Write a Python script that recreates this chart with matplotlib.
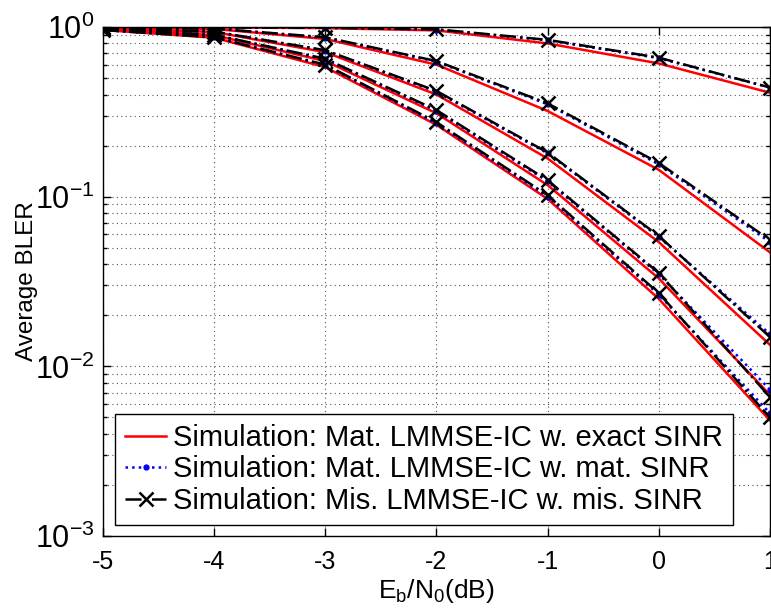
import matplotlib
matplotlib.use("Agg")
import matplotlib.pyplot as plt
from matplotlib.ticker import LogLocator, FixedLocator, NullLocator

plt.rcParams['font.family'] = ['Liberation Sans', 'DejaVu Sans']
plt.rcParams['axes.unicode_minus'] = False
plt.rcParams['mathtext.default'] = 'regular'

ebn0 = [-5, -4, -3, -2, -1, 0, 1]

# five curve groups, each: exact SINR (red), mat. SINR (blue), mis. SINR (black)
exact_sinr = [
    [1.00, 0.995, 0.985, 0.955, 0.80, 0.61, 0.41],
    [0.99, 0.975, 0.85, 0.60, 0.32, 0.144, 0.047],
    [0.98, 0.935, 0.71, 0.40, 0.168, 0.054, 0.0134],
    [0.97, 0.895, 0.63, 0.31, 0.117, 0.033, 0.0068],
    [0.96, 0.865, 0.58, 0.265, 0.097, 0.025, 0.0048],
]
mat_sinr = [
    [1.00, 0.995, 0.99, 0.965, 0.835, 0.655, 0.44],
    [0.99, 0.98, 0.865, 0.625, 0.35, 0.155, 0.054],
    [0.98, 0.94, 0.725, 0.415, 0.18, 0.058, 0.0155],
    [0.97, 0.90, 0.645, 0.32, 0.123, 0.035, 0.0073],
    [0.96, 0.87, 0.595, 0.27, 0.10, 0.0265, 0.0053],
]
mis_sinr = [
    [1.00, 0.995, 0.99, 0.97, 0.84, 0.66, 0.44],
    [0.99, 0.98, 0.87, 0.63, 0.355, 0.158, 0.0556],
    [0.98, 0.94, 0.73, 0.42, 0.182, 0.0587, 0.0149],
    [0.97, 0.90, 0.65, 0.324, 0.125, 0.0355, 0.0066],
    [0.96, 0.87, 0.60, 0.275, 0.102, 0.027, 0.0050],
]
labels = ["Simulation: Mat. LMMSE-IC w. exact SINR",
          "Simulation: Mat. LMMSE-IC w. mat. SINR",
          "Simulation: Mis. LMMSE-IC w. mis. SINR"]

fig = plt.figure(figsize=(7.71, 6.14), dpi=100)
ax = fig.add_axes([0.1336, 0.127, 0.865, 0.829])

for i in range(len(exact_sinr)):
    ax.semilogy(ebn0, exact_sinr[i], '-', color='red', lw=1.8,
                label=labels[0] if i == 0 else None)
for i in range(len(mat_sinr)):
    ax.semilogy(ebn0, mat_sinr[i], ':', color='blue', lw=1.8, marker='.',
                ms=7, label=labels[1] if i == 0 else None)
for i in range(len(mis_sinr)):
    ax.semilogy(ebn0, mis_sinr[i], '-.', color='black', lw=1.8, marker='x',
                ms=10, mew=1.8, label=labels[2] if i == 0 else None)

ax.set_xlim(-5, 1)
ax.set_ylim(1e-3, 1)
ax.xaxis.set_major_locator(FixedLocator(ebn0))
ax.xaxis.set_minor_locator(NullLocator())
ax.yaxis.set_major_locator(LogLocator(base=10, numticks=10))
ax.yaxis.set_minor_locator(LogLocator(base=10, subs=range(2, 10), numticks=20))

ax.tick_params(which='both', direction='in', top=True, right=True, width=1)
ax.tick_params(axis='x', labelsize=18, pad=10)
ax.tick_params(axis='y', labelsize=22, pad=6)
ax.tick_params(which='major', length=6)
ax.tick_params(which='minor', length=3)
for s in ax.spines.values():
    s.set_linewidth(1)

ax.grid(True, which='major', axis='both', linestyle=(0, (1, 3)),
        color='#555555', lw=0.8)
ax.grid(True, which='minor', axis='y', linestyle=(0, (1, 3)),
        color='#555555', lw=0.8)

ax.set_xlabel(r'$\mathregular{E_b/N_0(dB)}$', fontsize=19, labelpad=2)
ax.set_ylabel('Average BLER', fontsize=17.5)
ax.yaxis.set_label_coords(-0.098, 0.5)

leg = ax.legend(loc='lower left', bbox_to_anchor=(0.018, 0.0216),
                borderaxespad=0, fontsize=21, fancybox=False,
                edgecolor='black', framealpha=1, handlelength=1.4,
                handletextpad=0.25, labelspacing=0.12, borderpad=0.35)
leg.get_frame().set_linewidth(1)

fig.savefig('out.png', dpi=100)
